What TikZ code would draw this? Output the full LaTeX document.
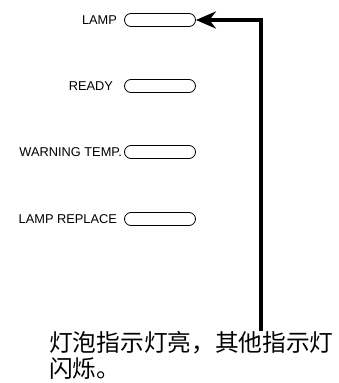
\documentclass[tikz,border=0pt]{standalone}
\usepackage{fontspec}
\setmainfont{Liberation Sans}
\newfontfamily\cjk{Noto Sans CJK SC}
\usetikzlibrary{arrows.meta, positioning, shapes.misc}

\begin{document}
\begin{tikzpicture}[x=1pt,y=-1pt,>={Stealth[length=20pt,width=17pt]},pill/.style={draw, rounded rectangle, line width=0.8pt, minimum width=71pt, minimum height=13pt, inner sep=0pt},lbl/.style={inner sep=0pt, font=\fontsize{12.8}{14}\selectfont},arrow/.style={->, line width=3.8pt},note/.style={anchor=north west, align=left, inner sep=0pt, font=\cjk\fontsize{23.7}{26}\selectfont}]
\useasboundingbox (0,0) rectangle (338,383);
\node[pill] (lamp) at (160,20) {}; \node[lbl, left=7pt of lamp] (lamplbl) {LAMP};
\node[pill] (ready) at (160,86) {}; \node[lbl, left=11pt of ready] (readylbl) {READY};
\node[pill] (warn) at (160,152) {}; \node[lbl, left=2pt of warn] (warnlbl) {WARNING TEMP.};
\node[pill] (replace) at (160,219) {}; \node[lbl, left=7pt of replace] (replacelbl) {LAMP REPLACE};
\node[note] (msg) at (49,331) {灯泡指示灯亮，其他指示灯\\闪烁。};
\coordinate (bend) at (261,20);
\draw[arrow] (msg.north -| bend) |- (lamp.east);
\end{tikzpicture}
\end{document}
